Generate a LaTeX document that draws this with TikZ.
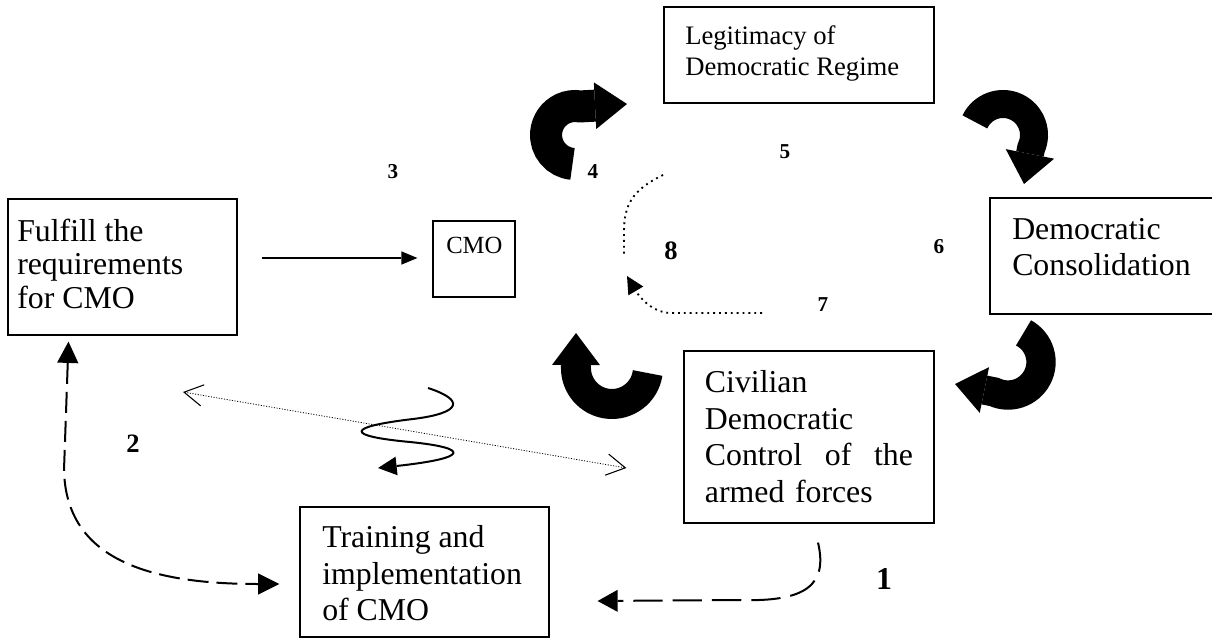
\documentclass[tikz,border=0pt]{standalone}
\usepackage{fontspec}
\setmainfont{Liberation Serif}
\usetikzlibrary{arrows.meta,calc}
\begin{document}
\begin{tikzpicture}[x=0.75pt,y=-0.75pt,
  box/.style={draw, line width=0.9pt, inner sep=0pt},
  bigtxt/.style={inner sep=0pt, anchor=north west, align=left, font=\fontsize{23.85pt}{27.4pt}\selectfont},
  smalltxt/.style={inner sep=0pt, anchor=north west, align=left, font=\fontsize{20pt}{23.25pt}\selectfont},
  lab/.style={inner sep=0pt, font=\bfseries\fontsize{15.9pt}{18pt}\selectfont},
  midlab/.style={inner sep=0pt, font=\bfseries\fontsize{19.9pt}{22pt}\selectfont},
  toplab/.style={inner sep=0pt, font=\bfseries\fontsize{23.85pt}{26pt}\selectfont},
  solidarr/.style={line width=1.1pt, -{Triangle[length=12pt,width=10pt,line width=0pt]}},
  dashtwo/.style={line width=1.5pt, dash pattern=on 15.75pt off 6pt, {Triangle[length=16pt,width=16pt,line width=0pt]}-{Triangle[length=16pt,width=16pt,line width=0pt]}},
  dashone/.style={line width=1.5pt, dash pattern=on 22pt off 7.5pt, -{Triangle[length=15pt,width=16.5pt,line width=0pt]}},
  finedot/.style={line width=0.6pt, dash pattern=on 0.8pt off 1.2pt, {Straight Barb[length=14pt,width=16pt,line width=0.8pt]}-{Straight Barb[length=14pt,width=16pt,line width=0.8pt]}},
  dotline/.style={line width=1.4pt, dash pattern=on 1.4pt off 3pt},
  squig/.style={line width=1.5pt, -{Triangle[length=14pt,width=14pt,line width=0pt]}},
  fat/.style={line width=#1},
]
\useasboundingbox (0,0) rectangle (1212,638);

% boxes
\node[box, minimum width=202.5pt, minimum height=72pt] (legit) at (799,55) {};
\node[box, minimum width=61.5pt, minimum height=57pt] (cmo) at (474,259) {};
\node[box, minimum width=171.75pt, minimum height=102pt] (fulfill) at (122.5,267) {};
\node[box, minimum width=168pt, minimum height=87pt] (demcons) at (1102,256) {};
\node[box, minimum width=187.5pt, minimum height=129pt] (civil) at (809,437) {};
\node[box, minimum width=186.75pt, minimum height=97.5pt] (train) at (424.5,572) {};

% texts
\node[smalltxt] (tlegit) at (685,25.5) {Legitimacy of\\Democratic Regime};
\node[smalltxt, font=\fontsize{18.5pt}{21pt}\selectfont] (tcmo) at (446,237) {CMO};
\node[bigtxt, font=\fontsize{23.85pt}{25pt}\selectfont] (tfulfill) at (17,219) {Fulfill the\\requirements\\for CMO};
\node[bigtxt] (tdem) at (1012,217.7) {Democratic\\Consolidation};
\node[bigtxt, text width=156pt] (tcivil) at (704.7,370.5) {Civilian\\Democratic\\\leavevmode\hbox to 156pt{Control\hfill of\hfill the}\\armed forces};
\node[bigtxt] (ttrain) at (322,525.3) {Training and\\implementation\\of CMO};

% number labels
\node[lab] (n3) at (393,172) {3};
\node[lab] (n4) at (593,172) {4};
\node[lab] (n5) at (785,152) {5};
\node[lab] (n6) at (939,247) {6};
\node[lab] (n7) at (823,305) {7};
\node[midlab] (n8) at (671,251) {8};
\node[midlab] (n2) at (133,444) {2};
\node[toplab] (n1) at (884,579) {1};

% solid arrow
\draw[solidarr] ($(fulfill.east)+(24,-9)$) -- ($(cmo.west)+(-15,-1)$);

% dashed arrows
\draw[dashtwo] ($(fulfill.south)+(-54,6)$) -- (64,470) .. controls (66,560) and (150,584) .. ($(train.west)+(-20,12)$);
\draw[dashone] ($(civil.south)+(9,19)$) .. controls (828,585) and (806,602) .. (740,600) -- ($(train.east)+(48,29)$);

% dotted double arrow
\coordinate (da1) at (183,392);
\draw[finedot] (da1) -- ($(civil.west)+(-57,31)$);

% squiggle
\coordinate (sq0) at (428,388);
\draw[squig] (sq0) .. controls (465,400) and (462,413) .. (413,419)
  .. controls (345,427) and (345,436) .. (410,442)
  .. controls (470,448) and (470,458) .. (378,468);

% dotted arrows around 8
\coordinate (d1) at (663,175);
\coordinate (d2) at (624,257);
\draw[dotline] (d1) .. controls (632,190) and (624,205) .. (624,232) -- (d2);
\coordinate (d3) at (762,313);
\coordinate (d4) at (627,276);
\draw[dotline, -{Triangle[length=13pt,width=13pt,line width=0pt]}] (d3) -- (670,313) .. controls (652,312) and (640,298) .. (d4);

% thick curved arrows
\draw[fat=24pt, -{Triangle[length=24pt,width=35pt,line width=0pt]}] (572.5,163.9) arc[start angle=95, end angle=280, radius=29] -- (627,104);
\draw[fat=21pt, -{Triangle[length=23pt,width=37pt,line width=0pt]}] (974.9,121.9) arc[start angle=205, end angle=385, radius=31] -- (1024,184);
\draw[fat=22pt, -{Triangle[length=22.5pt,width=35pt,line width=0pt]}] (1023.5,332.9) arc[start angle=298, end angle=475, radius=33] -- (955,384);
\draw[fat=22.5pt, -{Triangle[length=24pt,width=36pt,line width=0pt]}] (647.6,373) arc[start angle=8, end angle=180, radius=36] -- (576,333);
\end{tikzpicture}
\end{document}
